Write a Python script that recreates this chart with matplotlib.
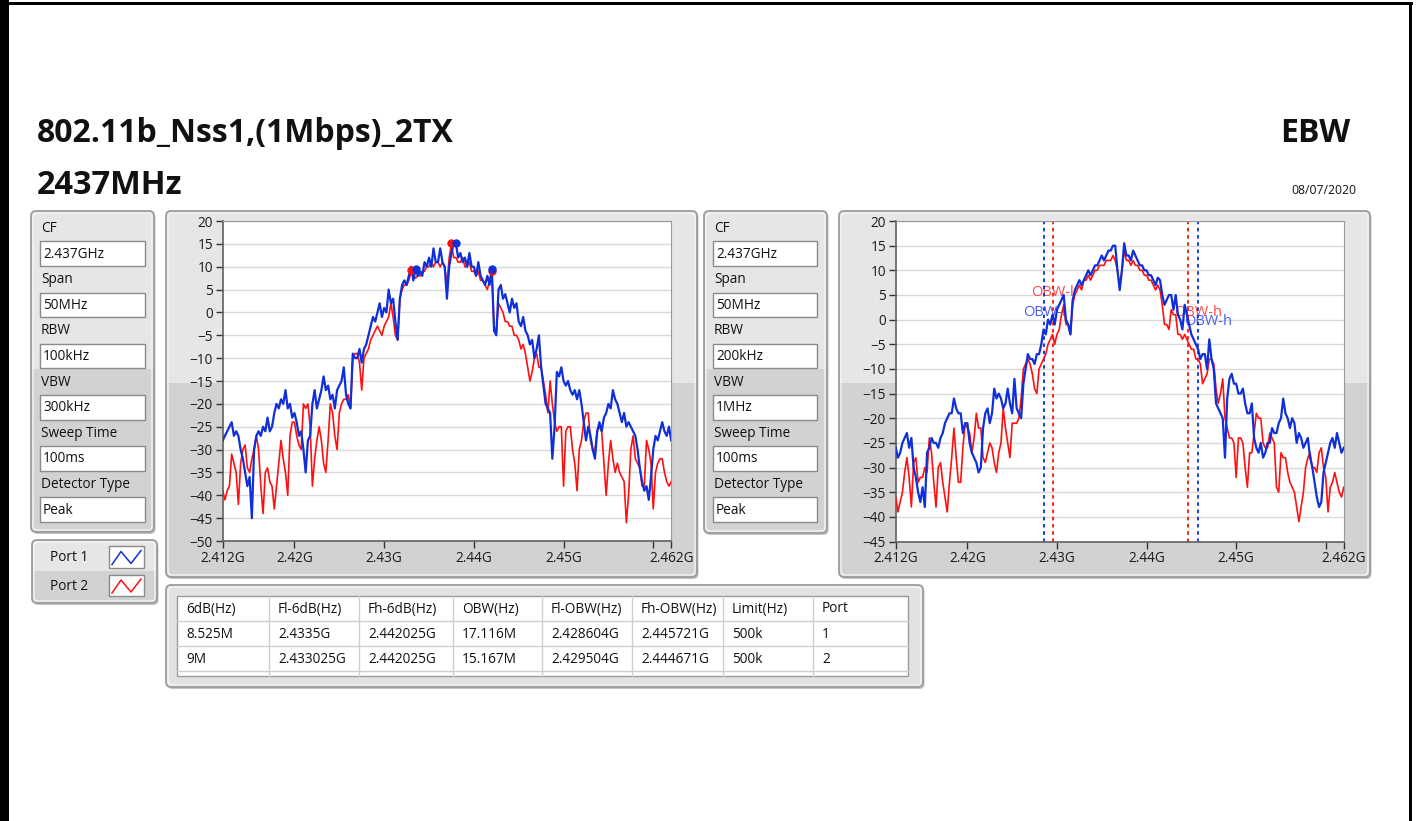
import numpy as np
import matplotlib.pyplot as plt
from matplotlib.patches import FancyBboxPatch, Rectangle

plt.rcParams['font.family'] = ['Open Sans', 'DejaVu Sans']

# sweep: 2.412 GHz .. 2.462 GHz, 201 points (MHz)
freq_mhz = np.linspace(2412, 2462, 201)

# RBW 100 kHz sweep (dBm)
p1_rbw100 = [
    -28, -27, -26, -25,
    -24, -27, -26, -27,
    -30, -32, -35, -38,
    -36, -45, -30, -27,
    -26, -27, -25, -26,
    -23, -26, -25, -22,
    -20, -21, -19, -20,
    -17, -21, -20, -23,
    -22, -24, -27, -26,
    -30, -35, -28, -27,
    -20, -17, -21, -19,
    -17, -14, -17, -16,
    -19, -18, -21, -17,
    -16, -15, -12, -18,
    -20, -21, -9, -10,
    -10, -8, -11, -8,
    -7, -5, -3, -1,
    -2, 0, 2, -1,
    1, 0, 5, 2,
    3, -2, -6, 3,
    6, 7, 6, 8,
    10, 7, 9.5, 8,
    9, 8, 11, 10,
    12, 10, 14, 11,
    11, 14, 11, 10,
    3, 10, 13, 15,
    15, 12, 13, 11,
    12, 10, 13, 10,
    10, 8, 11, 8,
    7, 6, 8, 6,
    9.5, -4, -5, 5,
    6, 3, 4, 2,
    0, 3, 1, 2,
    -2, -3, -1, -4,
    -5, -7, -6, -10,
    -8, -5, -12, -16,
    -20, -21, -22, -32,
    -25, -13, -14, -12,
    -15, -16, -15, -17,
    -18, -17, -19, -17,
    -20, -24, -28, -25,
    -27, -30, -32, -26,
    -24, -26, -23, -22,
    -20, -21, -17, -19,
    -20, -22, -24, -22,
    -25, -24, -25, -26,
    -27, -30, -34, -37,
    -39, -38, -41, -36,
    -30, -27, -28, -26,
    -24, -26, -27, -25,
    -28]
p2_rbw100 = [
    -39, -41, -39, -38,
    -31, -33, -35, -42,
    -33, -30, -29, -34,
    -35, -32, -30, -27,
    -30, -38, -44, -35,
    -34, -37, -38, -43,
    -38, -33, -28, -32,
    -35, -40, -27, -24,
    -24, -27, -29, -30,
    -20, -21, -20, -25,
    -38, -32, -28, -25,
    -28, -33, -35, -28,
    -20, -22, -27, -30,
    -22, -20, -19, -19,
    -18, -21, -10, -9,
    -9, -11, -17, -10,
    -9, -8, -6, -5,
    -4, -3, -4, -5,
    -3, -2, -1, 2,
    -1, -5, -6, 3,
    5, 6, 6, 7,
    9, 8, 7.5, 8,
    8, 9, 9, 10,
    10, 11, 10, 11,
    11, 10, 11, 10,
    6, 12, 15, 12,
    12, 11, 11, 12,
    10, 10, 11, 9,
    9, 8, 9, 7,
    7, 6, 5, 7,
    9, -3, -4.5, 2,
    1, 0, -2, -2,
    -3, -3, -5, -5,
    -6, -8, -7, -9,
    -12, -15, -13, -10,
    -9, -12, -12, -15,
    -18, -22, -15, -20,
    -24, -26, -25, -25,
    -38, -26, -25, -25,
    -30, -33, -39, -30,
    -28, -24, -22, -22,
    -28, -30, -30, -26,
    -25, -26, -33, -40,
    -33, -28, -32, -35,
    -33, -35, -36, -37,
    -46, -40, -30, -27,
    -32, -33, -34, -38,
    -38, -28, -30, -33,
    -43, -35, -33, -32,
    -32, -35, -37, -38,
    -37]

# RBW 200 kHz sweep (dBm)
p1_rbw200 = [
    -26, -28, -27, -25,
    -24, -23, -26, -24,
    -30, -32, -35, -37,
    -34, -38, -27, -26,
    -24, -25, -25, -26,
    -24, -23, -21, -20,
    -19, -19, -16, -18,
    -19, -19, -23, -21,
    -21, -25, -27, -28,
    -29, -31, -30, -22,
    -19, -18, -21, -19,
    -14, -16, -15, -16,
    -18, -17, -14, -17,
    -19, -12, -18, -19,
    -20, -13, -10, -7,
    -8, -8, -9, -7,
    -7, -5, -2, -3,
    0, -1, 1, -1,
    2, 3, 4, 5,
    0, -1, -3, 4,
    6, 7, 8, 7,
    8, 9, 10, 9,
    10, 11, 11, 12,
    13, 12, 13, 14,
    14, 15, 15, 10,
    6, 10, 15.5, 13,
    13, 12, 14, 13,
    12, 11, 11, 10,
    10, 9, 9, 8,
    7, 8.5, 8, 5,
    3, 4, 5, 5,
    2, 5, 1, 0,
    -2, 3, 1, -1,
    -3, -4, -5, -6,
    -8, -7, -7, -10,
    -4, -8, -10, -17,
    -18, -19, -20, -28,
    -16, -12, -11, -13,
    -13, -15, -15, -14,
    -17, -19, -19, -17,
    -24, -26, -27, -25,
    -28, -27, -25, -25,
    -22, -23, -23, -21,
    -20, -16, -19, -20,
    -22, -20, -21, -25,
    -23, -24, -26, -25,
    -24, -28, -30, -33,
    -36, -38, -37, -31,
    -29, -27, -25, -24,
    -26, -23, -25, -27,
    -26]
p2_rbw200 = [
    -36, -39, -37, -35,
    -31, -28, -32, -38,
    -29, -28, -33, -32,
    -32, -30, -31, -24,
    -27, -33, -38, -30,
    -29, -33, -36, -39,
    -33, -28, -22, -28,
    -33, -33, -26, -21,
    -22, -23, -27, -24,
    -19, -22, -22, -28,
    -29, -27, -25, -26,
    -29, -31, -27, -25,
    -18, -22, -25, -28,
    -21, -21, -21, -20,
    -16, -10, -9, -8,
    -9, -11, -14, -15,
    -10, -9, -8, -7,
    -5, -4, -3, -5,
    -3, -2, 1, 3,
    -1, -1, -3, 3,
    5, 6, 7, 6,
    8, 8, 9, 8,
    9, 10, 10, 11,
    11, 11, 12, 12,
    12, 13, 12, 10,
    7, 10, 14, 12,
    12, 11, 12, 11,
    11, 10, 10, 9,
    9, 8, 8, 7,
    6, 7, 6, 3,
    -1, -1, -2, 2,
    1, 1, -3, -3,
    -4, -3, -4, -5,
    -6, -6, -8, -8,
    -9, -13, -12, -11,
    -8, -8, -9, -14,
    -17, -15, -12, -20,
    -22, -24, -24, -25,
    -32, -24, -24, -25,
    -30, -34, -27, -27,
    -23, -19, -20, -20,
    -25, -26, -26, -23,
    -24, -25, -34, -35,
    -27, -28, -28, -31,
    -33, -34, -35, -38,
    -41, -38, -35, -30,
    -28, -27, -30, -30,
    -31, -27, -26, -30,
    -32, -39, -34, -33,
    -31, -33, -35, -36,
    -34]

# peak and -6 dB markers (MHz, dBm)
p1_mark_mhz = [2433.5, 2438.0, 2442.025]
p1_mark_db = [9.4, 15.1, 9.4]
p2_mark_mhz = [2433.025, 2437.5, 2442.025]
p2_mark_db = [9.2, 15.2, 9.0]

# occupied bandwidth cursors (MHz)
obw_lo_mhz = [2428.604, 2429.504]
obw_hi_mhz = [2445.721, 2444.671]
obw_lo_label_db = [1.5, 5.4]
obw_hi_label_db = [-0.3, 1.5]

x_ticks = [2412, 2420, 2430, 2440, 2450, 2460, 2462]
x_tick_labels = ['2.412G', '2.42G', '2.43G', '2.44G', '2.45G', '', '2.462G']

setting_names = ['CF', 'Span', 'RBW', 'VBW', 'Sweep Time', 'Detector Type']
settings_left = ['2.437GHz', '50MHz', '100kHz', '300kHz', '100ms', 'Peak']
settings_right = ['2.437GHz', '50MHz', '200kHz', '1MHz', '100ms', 'Peak']

table_header = ['6dB(Hz)', 'Fl-6dB(Hz)', 'Fh-6dB(Hz)', 'OBW(Hz)',
                'Fl-OBW(Hz)', 'Fh-OBW(Hz)', 'Limit(Hz)', 'Port']
table_rows = [
    ['8.525M', '2.4335G', '2.442025G', '17.116M', '2.428604G', '2.445721G', '500k', '1'],
    ['9M', '2.433025G', '2.442025G', '15.167M', '2.429504G', '2.444671G', '500k', '2'],
]

BLUE = '#0f2fd8'
RED = '#ff1010'

W, H = 1416, 821
fig = plt.figure(figsize=(W / 100, H / 100), dpi=100)
bg = fig.add_axes([0, 0, 1, 1])
bg.set_xlim(0, W)
bg.set_ylim(H, 0)
bg.axis('off')

# window frame
bg.add_patch(Rectangle((0, 0), 9, H, fc='black', ec='none'))
bg.add_patch(Rectangle((0, 2), 1413, 3, fc='black', ec='none'))
bg.add_patch(Rectangle((1409, 2), 3, H, fc='black', ec='none'))


def panel(x0, y0, x1, y1, split=None, light='#e6e6e6', dark='#d2d2d2'):
    shadow = FancyBboxPatch((x0 + 1.5, y0 + 2), x1 - x0, y1 - y0,
                            boxstyle='round,pad=0,rounding_size=5',
                            fc='#c4c4c4', ec='none')
    bg.add_patch(shadow)
    outer = FancyBboxPatch((x0, y0), x1 - x0, y1 - y0,
                           boxstyle='round,pad=0,rounding_size=5',
                           fc=light, ec='none')
    bg.add_patch(outer)
    if split is not None:
        low = Rectangle((x0, split), x1 - x0, y1 - split, fc=dark, ec='none')
        low.set_clip_path(outer)
        bg.add_patch(low)
    bg.add_patch(FancyBboxPatch((x0 + 2, y0 + 2), x1 - x0 - 4, y1 - y0 - 4,
                                boxstyle='round,pad=0,rounding_size=4',
                                fc='none', ec='#f4f4f4', lw=1))
    bg.add_patch(FancyBboxPatch((x0, y0), x1 - x0, y1 - y0,
                                boxstyle='round,pad=0,rounding_size=5',
                                fc='none', ec='#9c9c9c', lw=1.3))


def settings(x0, y0, x1, y1, bx0, bx1, lx, values):
    panel(x0, y0, x1, y1, split=369)
    for i, (name, val) in enumerate(zip(setting_names, values)):
        top = 241.5 + i * 51.2
        bg.text(lx, top - 13, name, fontsize=9.8, color='#111111',
                va='center', ha='left')
        bg.add_patch(Rectangle((bx0, top), bx1 - bx0, 24.5, fc='white',
                               ec='#8a8a8a', lw=1))
        bg.text(bx0 + 3, top + 12.5, val, fontsize=9.8, color='#111111',
                va='center', ha='left')


# titles
bg.text(37, 133, '802.11b_Nss1,(1Mbps)_2TX', fontsize=23, fontweight='bold',
        color='#111111', va='center', ha='left')
bg.text(37, 186, '2437MHz', fontsize=23.5, fontweight='bold',
        color='#111111', va='center', ha='left')
bg.text(1350, 133, 'EBW', fontsize=23, fontweight='bold',
        color='#111111', va='center', ha='right')
bg.text(1356, 191, '08/07/2020', fontsize=8.8, color='#111111',
        va='center', ha='right')

settings(31, 211, 154, 532, 40, 145, 41, settings_left)
settings(704, 211, 827, 533, 713, 817, 714, settings_right)

# port legend
panel(32, 540, 157, 603, split=571)
for i, (name, col) in enumerate([('Port 1', BLUE), ('Port 2', RED)]):
    cy = 557.5 + i * 28.5
    bg.text(69, cy, name, fontsize=9.8, color='#111111', va='center', ha='center')
    bx = 109
    bg.add_patch(Rectangle((bx, cy - 11), 35, 21.5, fc='white', ec='#8a8a8a', lw=1))
    bg.plot([bx + 3, bx + 12, bx + 22, bx + 32],
            [cy + 7, cy - 6, cy + 6, cy - 7], color=col, lw=1.1)

# plot frames
panel(166, 211, 697, 577, split=383)
panel(839, 211, 1370, 577, split=383)

# results table
panel(166, 585, 923, 687, light='#e2e2e2')
bg.add_patch(Rectangle((177, 596), 731, 80, fc='white', ec='#9a9a9a', lw=1))
col_x = [177, 269, 359, 453, 542, 632, 723, 813, 908]
for cx in col_x[1:-1]:
    bg.plot([cx, cx], [596, 676], color='#cfcfcf', lw=1)
for ry in [621.5, 646.5, 671.5]:
    bg.plot([177, 908], [ry, ry], color='#cfcfcf', lw=1)
for j, head in enumerate(table_header):
    bg.text(col_x[j] + 9, 609, head, fontsize=9.8, color='#111111',
            va='center', ha='left')
    for k, row in enumerate(table_rows):
        bg.text(col_x[j] + 9, 634.5 + k * 25, row[j], fontsize=9.8,
                color='#111111', va='center', ha='left')


def px_axes(x0, y0, x1, y1):
    return fig.add_axes([x0 / W, 1 - y1 / H, (x1 - x0) / W, (y1 - y0) / H])


def style(ax, ymin, ymax):
    ax.set_facecolor('white')
    ax.set_xlim(2412, 2462)
    ax.set_ylim(ymin, ymax)
    ax.set_xticks(x_ticks)
    ax.set_xticklabels(x_tick_labels)
    ax.set_yticks(np.arange(ymin, ymax + 1, 5))
    ax.set_xticks([2420, 2430, 2440, 2450, 2460], minor=True)
    ax.grid(True, which='minor', axis='x', color='#d9d9d9', lw=1)
    ax.grid(True, which='major', axis='y', color='#d9d9d9', lw=1)
    ax.tick_params(axis='x', which='minor', length=0)
    ax.tick_params(axis='both', which='major', direction='out', length=5,
                   width=1, color='#333333', labelsize=9.8,
                   labelcolor='#1a1a1a', pad=2)
    ax.set_axisbelow(True)
    for side in ['top', 'right']:
        ax.spines[side].set_color('#9a9a9a')
    for side in ['left', 'bottom']:
        ax.spines[side].set_color('#606060')
        ax.spines[side].set_linewidth(1.2)


# RBW 100 kHz spectrum
ax1 = px_axes(222.7, 221, 671.2, 541)
style(ax1, -50, 20)
ax1.plot(freq_mhz, p2_rbw100, color=RED, lw=1.2, zorder=3)
ax1.plot(freq_mhz, p1_rbw100, color=BLUE, lw=1.6, zorder=4)
ax1.plot(p2_mark_mhz, p2_mark_db, 'o', color=RED, ms=5, zorder=5)
ax1.plot(p1_mark_mhz, p1_mark_db, 'o', color=BLUE, ms=5, zorder=5)

# RBW 200 kHz spectrum with OBW cursors
ax2 = px_axes(895.7, 221, 1343.7, 541.5)
style(ax2, -45, 20)
ax2.plot(freq_mhz, p2_rbw200, color=RED, lw=1.2, zorder=3)
ax2.plot(freq_mhz, p1_rbw200, color=BLUE, lw=1.6, zorder=4)
for f_lo, f_hi, col in zip(obw_lo_mhz, obw_hi_mhz, [BLUE, RED]):
    ax2.axvline(f_lo, color=col, ls=(0, (2, 2)), lw=1.3, zorder=2)
    ax2.axvline(f_hi, color=col, ls=(0, (2, 2)), lw=1.3, zorder=2)
label_cols = ['#4a5df0', '#ff4a4a']
for f_lo, f_hi, y_lo, y_hi, col in zip(obw_lo_mhz, obw_hi_mhz,
                                       obw_lo_label_db, obw_hi_label_db, label_cols):
    ax2.text(f_lo, y_lo, 'OBW-l', color=col, fontsize=10.5,
             ha='center', va='center', zorder=1)
    ax2.text(f_hi + 1.1, y_hi, 'OBW-h', color=col, fontsize=10.5,
             ha='center', va='center', zorder=1)

fig.savefig('out.png', dpi=100)
